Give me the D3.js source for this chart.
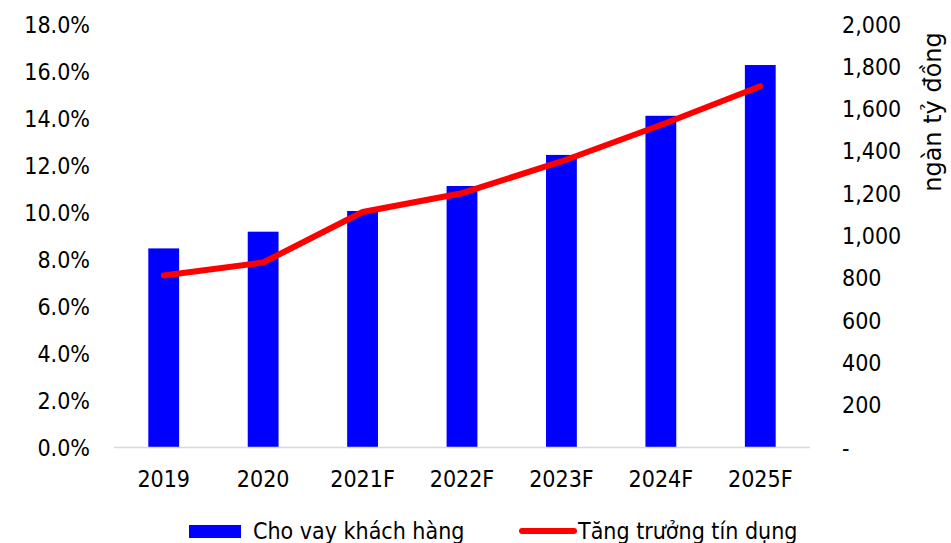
<!DOCTYPE html>
<html>
<head>
<meta charset="utf-8">
<script src="https://cdn.jsdelivr.net/npm/d3@7"></script>
<style>
  html, body { margin: 0; padding: 0; background: #fff; }
  svg { display: block; }
  text { font-family: "DejaVu Sans Condensed", "DejaVu Sans", sans-serif; font-stretch: condensed; fill: #000; }
</style>
</head>
<body>
<svg id="chart" width="951" height="543"></svg>
<script>
// Years on the category axis
const years = ["2019", "2020", "2021F", "2022F", "2023F", "2024F", "2025F"];
// Customer loans, thousand billion VND (right axis)
const loans = [939, 1018, 1116, 1234, 1381, 1566, 1806];
// Credit growth, percent (left axis)
const creditGrowth = [7.3, 7.85, 10.0, 10.8, 12.15, 13.7, 15.35];
// Axis ticks
const leftTicks = [0, 2, 4, 6, 8, 10, 12, 14, 16, 18];
const rightTicks = [0, 200, 400, 600, 800, 1000, 1200, 1400, 1600, 1800, 2000];
// Legend entries
const seriesNames = ["Cho vay khách hàng", "Tăng trưởng tín dụng"];
const rightTitle = "ngàn tỷ đồng";

const svg = d3.select("#chart");
const plotLeft = 114, plotRight = 810, plotTop = 24, plotBottom = 447;

const x = d3.scaleBand().domain(years).range([plotLeft, plotRight])
  .paddingInner(0.69).paddingOuter(0.345);
const yL = d3.scaleLinear().domain([0, 18]).range([plotBottom, plotTop]);
const yR = d3.scaleLinear().domain([0, 2000]).range([plotBottom, plotTop]);

// Bars: customer loans
svg.append("g").selectAll("rect").data(loans).join("rect")
  .attr("x", (d, i) => x(years[i]))
  .attr("y", d => yR(d))
  .attr("width", x.bandwidth())
  .attr("height", d => yR(0) - yR(d))
  .attr("fill", "#0000ff");

// Category baseline
svg.append("line")
  .attr("x1", plotLeft).attr("x2", plotRight)
  .attr("y1", plotBottom + 0.5).attr("y2", plotBottom + 0.5)
  .attr("stroke", "#d9d9d9").attr("stroke-width", 1.5);

// Left axis (percent)
const axL = svg.append("g").attr("transform", "translate(90,0)")
  .call(d3.axisLeft(yL).tickValues(leftTicks).tickSize(0).tickPadding(0)
    .tickFormat(d => d.toFixed(1) + "%"));
axL.select(".domain").remove();
axL.selectAll("text").attr("font-size", 23).attr("font-family", null).attr("dy", "0.35em");

// Right axis (thousand billion VND)
const axR = svg.append("g").attr("transform", "translate(842,0)")
  .call(d3.axisRight(yR).tickValues(rightTicks).tickSize(0).tickPadding(0)
    .tickFormat(d => d === 0 ? "-" : d3.format(",")(d)));
axR.select(".domain").remove();
axR.selectAll("text").attr("font-size", 23).attr("font-family", null).attr("dy", "0.35em");

// Right axis title
svg.append("text")
  .attr("transform", `translate(941,${112}) rotate(-90)`)
  .attr("text-anchor", "middle")
  .attr("font-size", 24)
  .style("font-family", "'DejaVu Sans', sans-serif")
  .style("font-stretch", "normal")
  .text(rightTitle);

// Category labels
const axX = svg.append("g").attr("transform", `translate(0,${plotBottom})`)
  .call(d3.axisBottom(x).tickSize(0).tickPadding(0));
axX.select(".domain").remove();
axX.selectAll("text").attr("font-size", 23).attr("font-family", null)
  .attr("dy", null).attr("y", 40);

// Line: credit growth
const line = d3.line()
  .x((d, i) => x(years[i]) + x.bandwidth() / 2)
  .y(d => yL(d))
  .curve(d3.curveLinear);
svg.append("path").datum(creditGrowth)
  .attr("d", line)
  .attr("fill", "none")
  .attr("stroke", "#ff0000")
  .attr("stroke-width", 6)
  .attr("stroke-linecap", "round")
  .attr("stroke-linejoin", "round");

// Legend
const lg = svg.append("g");
lg.append("rect").attr("x", 189).attr("y", 525).attr("width", 52).attr("height", 13).attr("fill", "#0000ff");
lg.append("text").attr("x", 253).attr("y", 539).attr("font-size", 23).text(seriesNames[0]);
lg.append("line").attr("x1", 522).attr("x2", 574).attr("y1", 531).attr("y2", 531)
  .attr("stroke", "#ff0000").attr("stroke-width", 6).attr("stroke-linecap", "round");
lg.append("text").attr("x", 578).attr("y", 539).attr("font-size", 23).text(seriesNames[1]);
</script>
</body>
</html>
